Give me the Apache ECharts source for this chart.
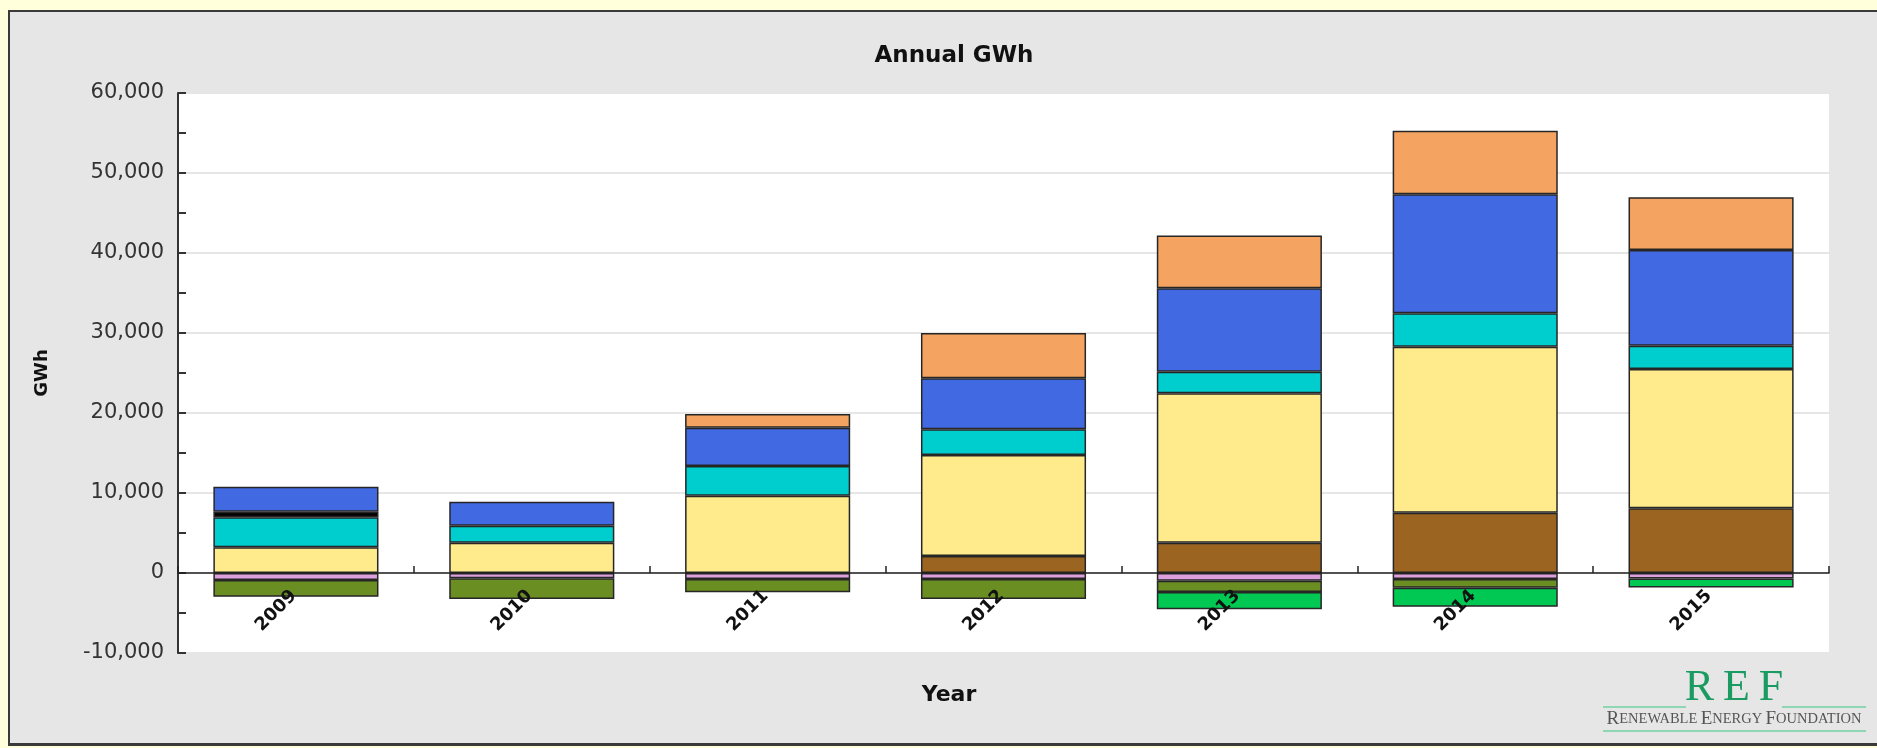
<!DOCTYPE html>
<html>
<head>
<meta charset="utf-8">
<title>Annual GWh</title>
<script src="https://cdn.jsdelivr.net/npm/echarts@6/dist/echarts.min.js"></script>
<style>
  html, body { margin: 0; padding: 0; width: 1877px; height: 748px; overflow: hidden; background: #ffffdc; }
  #panel { position: absolute; left: 8px; top: 10px; width: 2000px; height: 731px;
           background: #e6e6e6; border: 2px solid #3a3a3a; border-bottom-width: 3px; }
  #chart { position: absolute; left: 0; top: 0; width: 1877px; height: 748px; }
</style>
</head>
<body>
<div id="panel"></div>
<div id="chart"></div>
<script>
// Years on the category axis
const years = ['2009', '2010', '2011', '2012', '2013', '2014', '2015'];

// Positive stack, bottom to top (GWh); null = no segment that year
const segBrown  = [null, null, null, 2130, 3790, 7540, 8090];
const segYellow = [3210, 3790, 9660, 12630, 18680, 20750, 17410];
const segCyan   = [3750, 2130, 3710, 3210, 2700, 4180, 2910];
const segBlack  = [700, null, null, null, null, null, null];
const segBlue   = [3130, 3000, 4790, 6380, 10430, 14880, 11960];
const segOrange = [null, null, 1710, 5650, 6580, 7920, 6600];

// Negative stack, top to bottom (GWh)
const segPlum   = [-870, -660, -750, -750, -960, -750, -700];
const segOlive  = [-2090, -2590, -1660, -2500, -1410, -1090, null];
const segGreen  = [null, null, null, null, -2160, -2380, -1100];

// Value axis range and step
const yMin = -10000;
const yMax = 60000;
const yStep = 10000;

const layers = [
  { data: segBrown,  color: '#9b6421' },
  { data: segYellow, color: '#ffeb8b' },
  { data: segCyan,   color: '#00cdcd' },
  { data: segBlack,  color: '#000000' },
  { data: segBlue,   color: '#4169e1' },
  { data: segOrange, color: '#f4a460' },
  { data: segPlum,   color: '#dda0dd' },
  { data: segOlive,  color: '#6b8e23' },
  { data: segGreen,  color: '#00c853' }
];

// plot rectangle
const gridTop = 93;
const gridBottom = 95;
const gridHeight = 748 - gridTop - gridBottom;
// the category axis sits on the zero value: lift it from the bottom edge by zero's share of the range
const zeroLift = gridHeight * (0 - yMin) / (yMax - yMin);

const chart = echarts.init(document.getElementById('chart'), null, { renderer: 'canvas' });

const fontMain = '"DejaVu Sans", "Liberation Sans", sans-serif';

chart.setOption({
  animation: false,
  backgroundColor: 'transparent',
  title: {
    text: 'Annual GWh',
    left: 949,
    top: 40,
    textAlign: 'center',
    textStyle: { fontFamily: fontMain, fontWeight: 'bold', fontSize: 23, color: '#111' }
  },
  grid: {
    left: 178, right: 48, top: gridTop, bottom: gridBottom,
    outerBoundsMode: 'none',
    containLabel: false,
    show: true, backgroundColor: '#ffffff', borderWidth: 0
  },
  xAxis: {
    type: 'category',
    data: years,
    z: 10,
    offset: -zeroLift,
    axisLine: { onZero: false, lineStyle: { color: '#222', width: 1.5 } },
    axisTick: { show: true, inside: true, length: 7, lineStyle: { color: '#222', width: 1.5 } },
    axisLabel: {
      rotate: 45, margin: 18, padding: [0, 3, 0, 0],
      fontFamily: fontMain, fontWeight: 'bold', fontSize: 18, color: '#111'
    },
    splitLine: { show: false }
  },
  yAxis: {
    type: 'value',
    min: yMin, max: yMax, interval: yStep,
    name: 'GWh',
    nameLocation: 'middle',
    nameGap: 127,
    nameRotate: 90,
    nameTextStyle: { fontFamily: fontMain, fontWeight: 'bold', fontSize: 18, color: '#111' },
    axisLine: { show: true, lineStyle: { color: '#333', width: 2 } },
    axisTick: { show: true, inside: true, length: 8, lineStyle: { color: '#333', width: 2 } },
    minorTick: { show: true, splitNumber: 2, length: 8, lineStyle: { color: '#333', width: 2 } },
    axisLabel: {
      margin: 14,
      fontFamily: fontMain, fontSize: 21, color: '#333',
      formatter: v => v.toLocaleString('en-US')
    },
    splitLine: { show: true, lineStyle: { color: '#e6e6e6', width: 2 } }
  },
  series: layers.map(l => ({
    type: 'bar',
    stack: 'total',
    barWidth: '70%',
    data: l.data,
    itemStyle: { color: l.color, borderColor: '#262626', borderWidth: 1.5 }
  })),
  graphic: [
    // category axis title, centred under the chart heading
    {
      type: 'text', x: 949, y: 695, z: 10,
      style: {
        text: 'Year', align: 'center', verticalAlign: 'middle',
        font: 'bold 22px "DejaVu Sans", "Liberation Sans", sans-serif', fill: '#111'
      }
    },
    // foundation mark, bottom right
    { type: 'line', shape: { x1: 1603, y1: 707, x2: 1686, y2: 707 }, style: { stroke: '#8fd6b4', lineWidth: 2 } },
    { type: 'line', shape: { x1: 1782, y1: 707, x2: 1866, y2: 707 }, style: { stroke: '#8fd6b4', lineWidth: 2 } },
    { type: 'line', shape: { x1: 1603, y1: 731, x2: 1866, y2: 731 }, style: { stroke: '#8fd6b4', lineWidth: 2 } },
    {
      type: 'text', x: 1734, y: 710,
      style: {
        text: 'R\u2009E\u2009F', x: 0, y: 0, align: 'center', verticalAlign: 'bottom',
        font: '44px "Liberation Serif", "DejaVu Serif", serif', fill: '#1a9b62'
      }
    },
    {
      type: 'text', x: 1734, y: 729,
      style: {
        text: '{b|R}{s|ENEWABLE} {b|E}{s|NERGY} {b|F}{s|OUNDATION}',
        align: 'center', verticalAlign: 'bottom',
        rich: {
          b: { fontFamily: '"Liberation Serif", serif', fontSize: 19, fill: '#555', color: '#555' },
          s: { fontFamily: '"Liberation Serif", serif', fontSize: 14.5, fill: '#555', color: '#555' }
        }
      }
    }
  ]
});
</script>
</body>
</html>
